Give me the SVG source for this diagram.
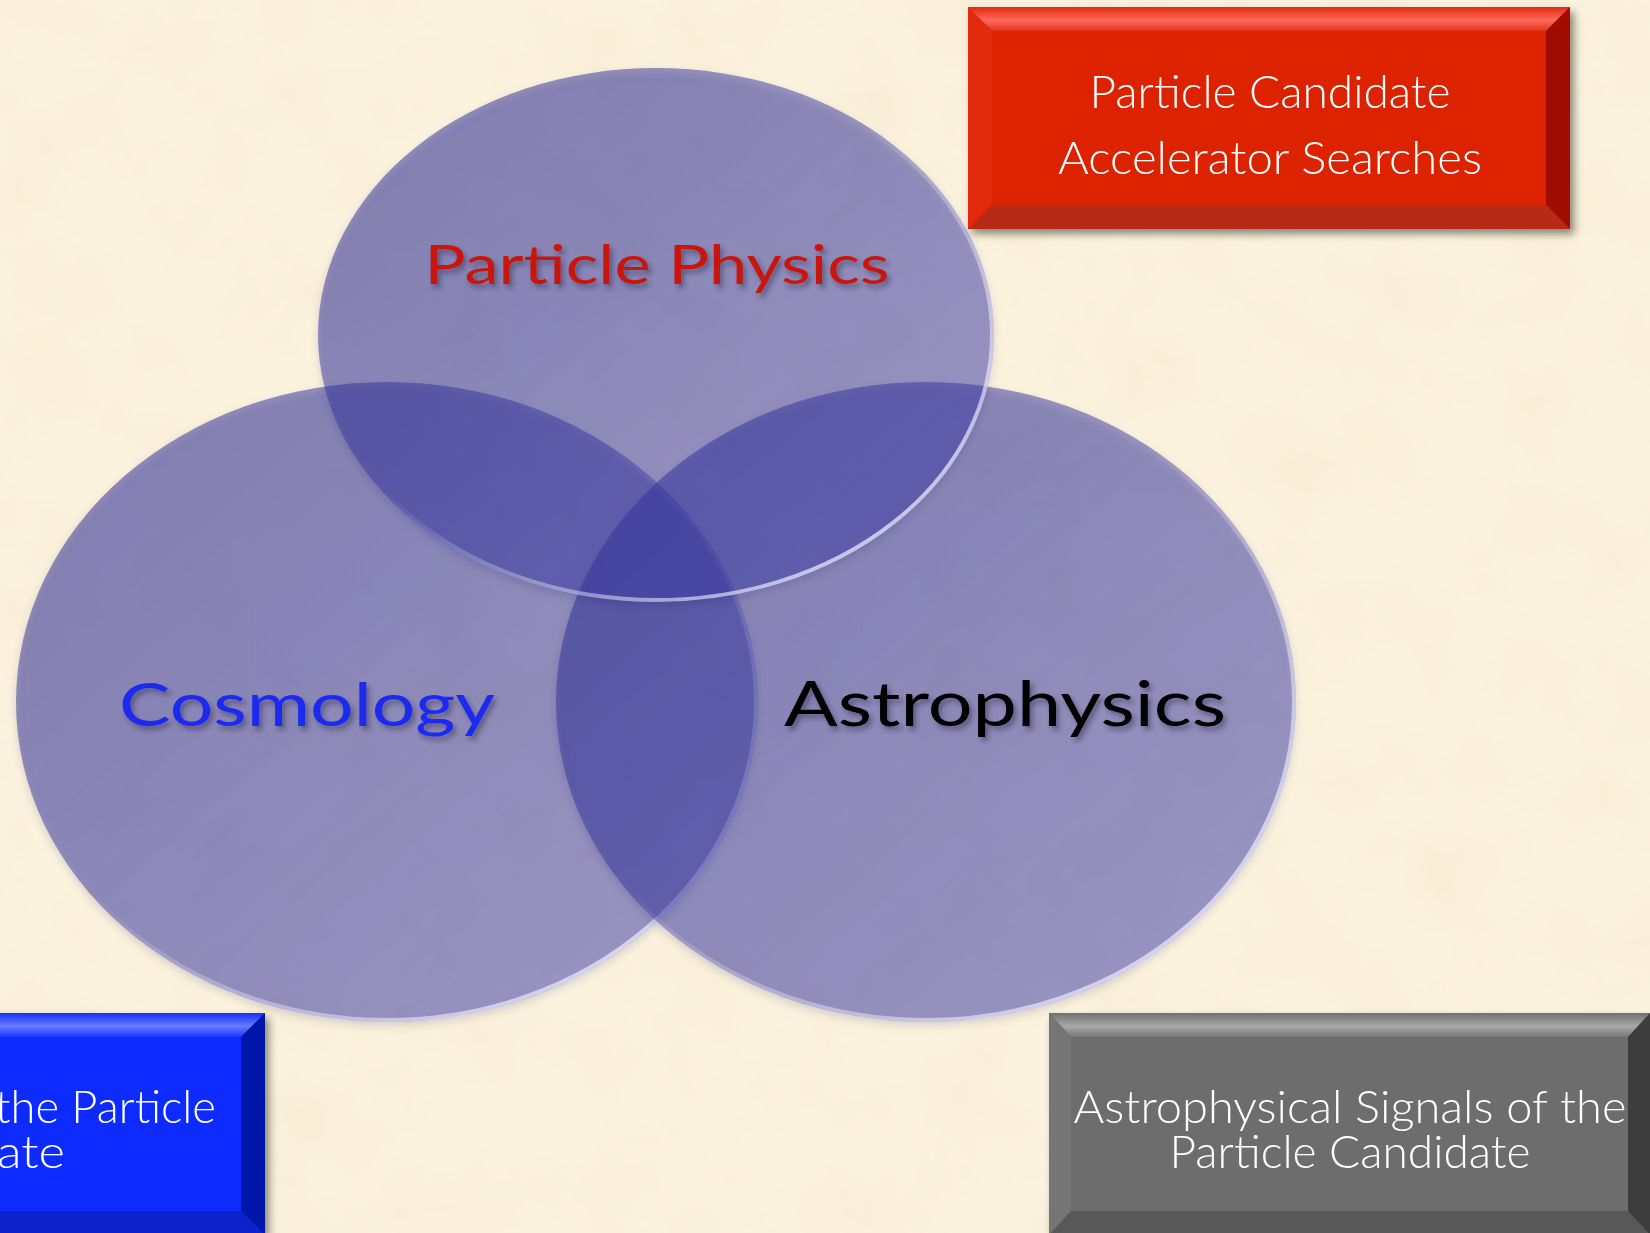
<svg xmlns="http://www.w3.org/2000/svg" width="1650" height="1233" viewBox="0 0 1650 1233">
<defs>
<style>
.lbl{font-family:"Lato","Open Sans","Liberation Sans",sans-serif;text-anchor:middle}
.boxt{font-family:"Lato","Open Sans","Liberation Sans",sans-serif;fill:#ffffff;font-size:46px;font-weight:300}
.circ{fill:url(#cg);filter:url(#csh)}
.rim{fill:none;stroke:url(#rimg);stroke-width:4}
</style>
<filter id="paper" x="0" y="0" width="100%" height="100%">
<feTurbulence type="fractalNoise" baseFrequency="0.012" numOctaves="4" seed="7"/>
<feColorMatrix type="matrix" values="0 0 0 0 0.90  0 0 0 0 0.80  0 0 0 0 0.62  0.9 0 0 0 -0.33"/>
</filter>
<filter id="csh" x="-10%" y="-10%" width="120%" height="125%">
<feDropShadow dx="0" dy="4" stdDeviation="4" flood-color="#202050" flood-opacity="0.3"/>
</filter>
<filter id="bsh" x="-5%" y="-5%" width="115%" height="120%">
<feDropShadow dx="4" dy="5" stdDeviation="4" flood-color="#000" flood-opacity="0.45"/>
</filter>
<filter id="tsh" x="-5%" y="-20%" width="115%" height="150%">
<feDropShadow dx="3" dy="4" stdDeviation="2.5" flood-color="#202040" flood-opacity="0.45"/>
</filter>
<linearGradient id="cg" x1="0" y1="0" x2="1" y2="1">
<stop offset="0" stop-color="#303096" stop-opacity="0.54"/>
<stop offset="1" stop-color="#4040b0" stop-opacity="0.42"/>
</linearGradient>
<linearGradient id="rimg" x1="0" y1="0" x2="1" y2="1">
<stop offset="0.45" stop-color="#ffffff" stop-opacity="0"/>
<stop offset="0.85" stop-color="#e8e8ff" stop-opacity="0.75"/>
</linearGradient>
<linearGradient id="redTop" x1="0" y1="0" x2="0" y2="1">
<stop offset="0" stop-color="#e02a10"/><stop offset="0.55" stop-color="#ff6a5c"/><stop offset="1" stop-color="#e2321a"/>
</linearGradient>
<linearGradient id="blueTop" x1="0" y1="0" x2="0" y2="1">
<stop offset="0" stop-color="#1030ff"/><stop offset="0.55" stop-color="#6a7cff"/><stop offset="1" stop-color="#1535ff"/>
</linearGradient>
<linearGradient id="grayTop" x1="0" y1="0" x2="0" y2="1">
<stop offset="0" stop-color="#707070"/><stop offset="0.55" stop-color="#a8a8a8"/><stop offset="1" stop-color="#777777"/>
</linearGradient>
</defs>

<rect width="1650" height="1233" fill="#fcf3df"/>
<rect width="1650" height="1233" filter="url(#paper)"/>

<g id="circles">
<g id="node-cosmology">
<ellipse class="circ" cx="387" cy="702" rx="371" ry="320"/>
<ellipse class="rim" cx="387" cy="702" rx="369" ry="318"/>
</g>
<g id="node-astrophysics">
<ellipse class="circ" cx="926" cy="702" rx="370" ry="320"/>
<ellipse class="rim" cx="926" cy="702" rx="368" ry="318"/>
</g>
<g id="node-particle-physics">
<ellipse class="circ" cx="656" cy="335" rx="338" ry="267"/>
<ellipse class="rim" cx="656" cy="335" rx="336" ry="265"/>
</g>
</g>

<g id="labels" filter="url(#tsh)">
<text class="lbl" x="657" y="284" font-size="55" fill="#c8180c" textLength="465" lengthAdjust="spacingAndGlyphs">Particle Physics</text>
<text class="lbl" x="307" y="726" font-size="60" fill="#1a2cf0" textLength="376" lengthAdjust="spacingAndGlyphs">Cosmology</text>
<text class="lbl" x="1005" y="726" font-size="62" fill="#000000" textLength="442" lengthAdjust="spacingAndGlyphs">Astrophysics</text>
</g>

<g id="node-accelerator" filter="url(#bsh)">
<rect x="968" y="7" width="602" height="222" fill="#dd2000"/>
<polygon points="968,7 1570,7 1546,31 992,31" fill="url(#redTop)"/>
<polygon points="968,7 992,31 992,205 968,229" fill="#e22a0c"/>
<polygon points="1570,7 1570,229 1546,205 1546,31" fill="#9e1000"/>
<polygon points="968,229 1570,229 1546,205 992,205" fill="#b82a18"/>
<text class="boxt" x="1270" y="108" text-anchor="middle" textLength="361" lengthAdjust="spacingAndGlyphs">Particle Candidate</text>
<text class="boxt" x="1270" y="174" text-anchor="middle" textLength="424" lengthAdjust="spacingAndGlyphs">Accelerator Searches</text>
</g>

<g id="node-cosmo-signals" filter="url(#bsh)">
<rect x="-337" y="1013" width="602" height="222" fill="#0a2cff"/>
<polygon points="-337,1013 265,1013 241,1037 -313,1037" fill="url(#blueTop)"/>
<polygon points="265,1013 265,1235 241,1211 241,1037" fill="#0014a8"/>
<polygon points="-337,1235 265,1235 241,1211 -313,1211" fill="#0822c8"/>
<text class="boxt" x="216" y="1123" text-anchor="end" textLength="221" lengthAdjust="spacingAndGlyphs">the Particle</text>
<text class="boxt" x="65" y="1168" text-anchor="end" textLength="68" lengthAdjust="spacingAndGlyphs">ate</text>
</g>

<g id="node-astro-signals" filter="url(#bsh)">
<rect x="1049" y="1013" width="601" height="222" fill="#6d6d6d"/>
<polygon points="1049,1013 1650,1013 1628,1037 1071,1037" fill="url(#grayTop)"/>
<polygon points="1049,1013 1071,1037 1071,1211 1049,1235" fill="#747474"/>
<polygon points="1650,1013 1650,1235 1628,1211 1628,1037" fill="#3e3e3e"/>
<polygon points="1049,1235 1650,1235 1628,1211 1071,1211" fill="#585858"/>
<text class="boxt" x="1350" y="1123" text-anchor="middle" textLength="553" lengthAdjust="spacingAndGlyphs">Astrophysical Signals of the</text>
<text class="boxt" x="1350" y="1168" text-anchor="middle" textLength="361" lengthAdjust="spacingAndGlyphs">Particle Candidate</text>
</g>

<g id="connectors"></g>
</svg>
